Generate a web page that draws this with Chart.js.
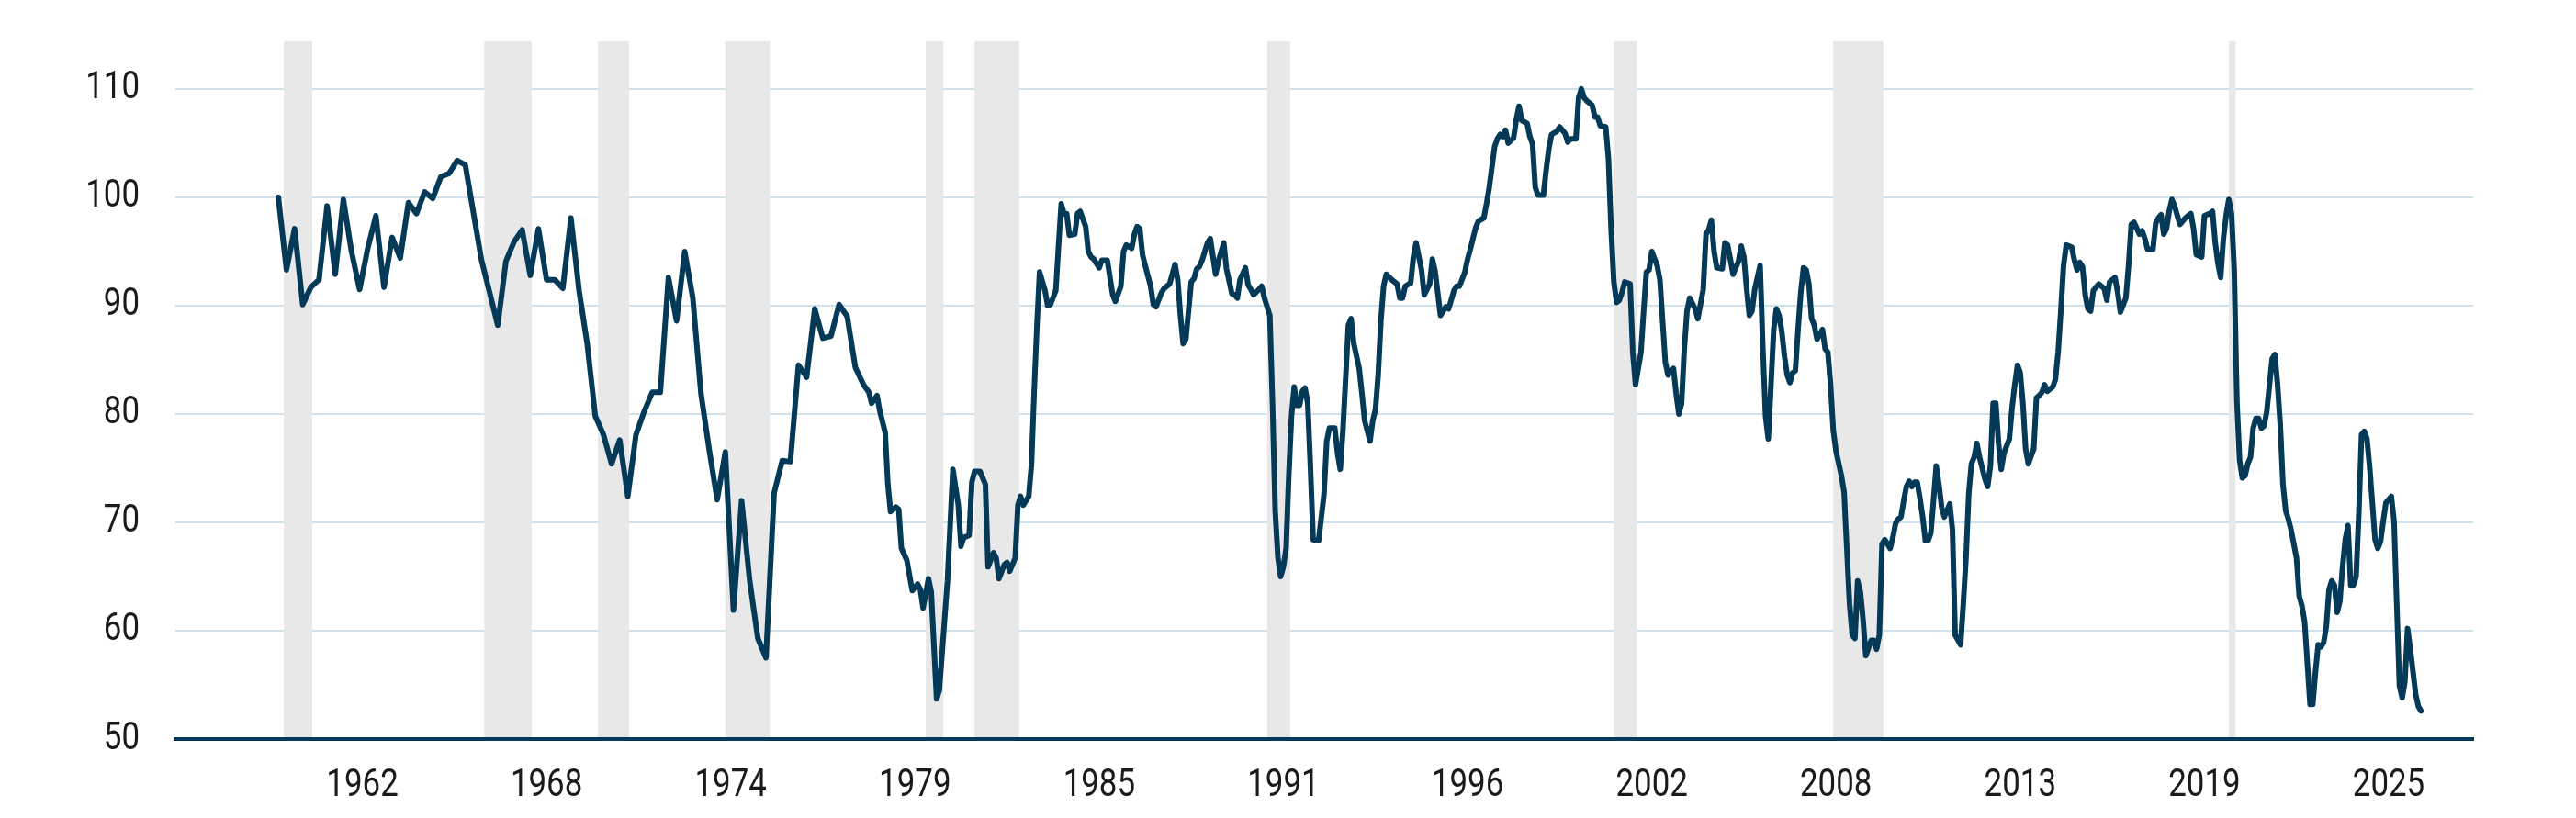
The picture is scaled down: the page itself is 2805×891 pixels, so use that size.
<!DOCTYPE html>
<html>
<head>
<meta charset="utf-8">
<script src="https://cdn.jsdelivr.net/npm/chart.js@4.4.1/dist/chart.umd.min.js"></script>
<style>
  html, body { margin: 0; padding: 0; background: #fff; }
  #wrap { width: 2805px; height: 891px; position: relative; }
</style>
</head>
<body>
<div id="wrap"><canvas id="myChart"></canvas></div>
<script>
// quarterly readings 1960-1977 (one every 3 months from quarterlyStart)
const quarterlyStart = '1960-02'
const quarterlyValues = [
  100.0, 93.3, 97.1, 90.1, 91.7, 92.4, 99.2, 92.9, 99.8, 95.0,
  91.5, 95.3, 98.3, 91.7, 96.3, 94.4, 99.5, 98.5, 100.5, 99.9,
  101.9, 102.2, 103.4, 103.0, 98.6, 94.2, 91.2, 88.2, 94.1, 95.9,
  97.0, 92.8, 97.1, 92.4, 92.4, 91.6, 98.1, 91.4, 86.5, 79.8,
  78.1, 75.4, 77.6, 72.4, 78.1, 80.2, 82.0, 82.0, 92.6, 88.6,
  95.0, 90.7, 81.9, 76.8, 72.1, 76.5, 61.9, 72.0, 64.6, 59.3,
  57.5, 72.7, 75.7, 75.6, 84.5, 83.4, 89.7, 87.0, 87.2, 90.1,
  89.0, 84.3
]

// monthly readings from 1978 on
const monthlyDates = [
  '1978-02','1978-04','1978-05','1978-07','1978-08','1978-10','1978-11','1978-12',
  '1979-02','1979-03','1979-04','1979-06','1979-08','1979-10','1979-11','1979-12',
  '1980-02','1980-03','1980-05','1980-06','1980-09','1980-11',
  '1981-01','1981-02','1981-03','1981-05','1981-06','1981-07','1981-09','1981-11','1981-12',
  '1982-02','1982-03','1982-04','1982-06','1982-07','1982-08','1982-10','1982-11','1982-12',
  '1983-01','1983-03','1983-04','1983-05','1983-06','1983-07','1983-09','1983-10','1983-11',
  '1984-01','1984-02','1984-03','1984-04','1984-05','1984-06','1984-08','1984-09','1984-10','1984-12',
  '1985-01','1985-02','1985-03','1985-05','1985-06','1985-08','1985-10','1985-11',
  '1986-01','1986-02','1986-03','1986-05','1986-06','1986-07','1986-08','1986-09','1986-10','1986-12',
  '1987-01','1987-02','1987-04','1987-05','1987-07','1987-09','1987-10','1987-11','1987-12',
  '1988-01','1988-03','1988-04','1988-05','1988-06','1988-07','1988-09','1988-10','1988-12',
  '1989-01','1989-03','1989-04','1989-06','1989-07','1989-08','1989-09','1989-11','1989-12',
  '1990-01','1990-02','1990-04','1990-05','1990-06','1990-08','1990-09','1990-10','1990-11','1990-12',
  '1991-01','1991-02','1991-03','1991-04','1991-05','1991-06','1991-07','1991-08','1991-09','1991-10','1991-11','1991-12',
  '1992-02','1992-04','1992-05','1992-06','1992-08','1992-09','1992-10','1992-11',
  '1993-01','1993-02','1993-03','1993-05','1993-06','1993-07','1993-09','1993-10','1993-11','1993-12',
  '1994-01','1994-02','1994-03','1994-05','1994-07','1994-08','1994-09','1994-10','1994-12',
  '1995-01','1995-02','1995-04','1995-05','1995-07','1995-08','1995-09','1995-10','1995-11',
  '1996-01','1996-02','1996-04','1996-05','1996-06','1996-08','1996-09','1996-10','1996-11','1996-12',
  '1997-01','1997-03','1997-04','1997-05','1997-07','1997-08','1997-09','1997-10','1997-11','1997-12',
  '1998-02','1998-03','1998-04','1998-05','1998-07','1998-08','1998-09','1998-10','1998-11',
  '1999-01','1999-02','1999-03','1999-04','1999-06','1999-07','1999-09','1999-10','1999-11',
  '2000-01','2000-02','2000-03','2000-04','2000-05','2000-07','2000-08','2000-09','2000-10','2000-12',
  '2001-01','2001-02','2001-03','2001-04','2001-05','2001-06','2001-07','2001-09','2001-10','2001-11',
  '2002-01','2002-02','2002-03','2002-04','2002-05','2002-07','2002-08','2002-09','2002-10','2002-11',
  '2003-01','2003-02','2003-03','2003-04','2003-05','2003-06','2003-07','2003-09','2003-10','2003-12',
  '2004-01','2004-02','2004-03','2004-04','2004-05','2004-07','2004-08','2004-09','2004-10','2004-11',
  '2005-01','2005-02','2005-03','2005-04','2005-05','2005-06','2005-07','2005-08','2005-09','2005-10','2005-11','2005-12',
  '2006-01','2006-02','2006-03','2006-04','2006-05','2006-06','2006-07','2006-08','2006-09','2006-10','2006-11','2006-12',
  '2007-01','2007-02','2007-03','2007-04','2007-05','2007-06','2007-08','2007-09','2007-10','2007-11','2007-12',
  '2008-01','2008-03','2008-04','2008-05','2008-06','2008-07','2008-08','2008-09','2008-10','2008-11','2008-12',
  '2009-02','2009-03','2009-04','2009-05','2009-06','2009-07','2009-09','2009-10','2009-11','2009-12',
  '2010-01','2010-02','2010-03','2010-04','2010-05','2010-06','2010-07','2010-08','2010-09','2010-10','2010-11','2010-12',
  '2011-01','2011-02','2011-03','2011-04','2011-05','2011-07','2011-08','2011-09','2011-11','2011-12',
  '2012-01','2012-02','2012-03','2012-04','2012-05','2012-06','2012-07','2012-08','2012-09','2012-10','2012-11','2012-12',
  '2013-01','2013-02','2013-03','2013-05','2013-06','2013-07','2013-08','2013-09','2013-10','2013-11','2013-12',
  '2014-02','2014-03','2014-04','2014-05','2014-06','2014-07','2014-09','2014-10','2014-11','2014-12',
  '2015-01','2015-02','2015-04','2015-05','2015-06','2015-07','2015-08','2015-09','2015-10','2015-11','2015-12',
  '2016-02','2016-04','2016-05','2016-06','2016-08','2016-09','2016-10','2016-12',
  '2017-01','2017-02','2017-03','2017-05','2017-06','2017-07','2017-08','2017-10','2017-11','2017-12',
  '2018-01','2018-02','2018-03','2018-04','2018-05','2018-06','2018-07','2018-08','2018-10','2018-12',
  '2019-01','2019-02','2019-04','2019-05','2019-07','2019-08','2019-09','2019-10','2019-11','2019-12',
  '2020-01','2020-02','2020-03','2020-04','2020-05','2020-06','2020-07','2020-08','2020-09','2020-10','2020-11','2020-12',
  '2021-01','2021-02','2021-03','2021-04','2021-06','2021-07','2021-08','2021-09','2021-10','2021-11','2021-12',
  '2022-01','2022-03','2022-04','2022-05','2022-06','2022-07','2022-08','2022-09','2022-10','2022-11','2022-12',
  '2023-01','2023-02','2023-03','2023-04','2023-05','2023-06','2023-07','2023-08','2023-09','2023-10','2023-11','2023-12',
  '2024-01','2024-02','2024-03','2024-04','2024-05','2024-06','2024-08','2024-09','2024-10','2024-11','2024-12',
  '2025-02','2025-03','2025-04','2025-05','2025-06','2025-07','2025-08','2025-09','2025-11','2025-12',
  '2026-01'
]
const monthlyValues = [
  82.7, 82.0, 81.0, 81.7, 80.3, 78.3, 73.5, 71.0,
  71.4, 71.2, 67.6, 66.5, 63.7, 64.3, 63.8, 62.1,
  64.8, 63.6, 53.7, 54.5, 64.6, 74.9,
  71.6, 67.8, 68.6, 68.8, 73.7, 74.7, 74.7, 73.5, 65.9,
  67.2, 66.7, 64.8, 66.1, 66.3, 65.5, 66.7, 71.6, 72.4,
  71.6, 72.4, 75.3, 82.0, 88.0, 93.1, 91.4, 90.0, 90.1,
  91.4, 95.5, 99.4, 98.5, 98.5, 96.5, 96.6, 98.5, 98.7, 97.3,
  95.0, 94.5, 94.3, 93.5, 94.2, 94.2, 91.0, 90.4,
  91.8, 95.0, 95.6, 95.3, 96.6, 97.3, 97.1, 94.7, 93.7, 91.8,
  90.1, 89.9, 91.2, 91.6, 92.0, 93.8, 92.4, 89.1, 86.5,
  86.9, 92.2, 92.5, 93.4, 93.6, 94.2, 95.8, 96.2, 92.9,
  94.1, 95.8, 93.4, 91.1, 91.0, 90.7, 92.4, 93.5, 91.9,
  91.5, 91.0, 91.5, 91.8, 90.7, 89.1, 81.0, 71.0, 66.7, 65.0,
  65.9, 67.6, 74.3, 79.8, 82.5, 80.8, 80.8, 82.1, 82.4, 81.0, 75.1, 68.4,
  68.3, 72.6, 77.5, 78.7, 78.7, 76.4, 74.9, 78.5,
  88.2, 88.8, 86.5, 84.2, 81.9, 79.4, 77.5, 79.4, 80.4, 83.6,
  88.6, 91.8, 92.9, 92.4, 92.0, 90.7, 90.7, 91.8, 92.1,
  94.5, 95.8, 93.3, 91.0, 92.0, 94.3, 93.2, 91.2, 89.1,
  89.9, 89.7, 91.4, 91.8, 91.8, 93.1, 94.3, 95.2, 96.2, 97.2,
  97.8, 98.1, 99.4, 100.9, 104.7, 105.4, 105.8, 105.6, 106.2, 105.0,
  105.5, 107.2, 108.4, 107.1, 106.8, 105.6, 104.9, 100.9, 100.2,
  100.2, 102.5, 104.5, 105.8, 106.1, 106.5, 105.9, 105.1, 105.4,
  105.4, 109.2, 110.0, 109.2, 108.9, 108.5, 107.4, 107.4, 106.6, 106.5,
  103.6, 97.0, 92.2, 90.3, 90.5, 91.2, 92.2, 92.0, 85.7, 82.7,
  85.7, 89.5, 93.1, 93.3, 95.0, 93.7, 92.4, 88.6, 84.8, 83.6,
  84.2, 81.9, 80.0, 81.0, 86.0, 89.5, 90.7, 89.7, 88.8, 91.5,
  96.6, 97.0, 97.9, 95.0, 93.5, 93.4, 95.8, 95.6, 94.3, 92.9,
  94.1, 95.5, 94.5, 91.6, 89.1, 89.5, 91.5, 92.6, 93.7, 86.1, 79.8, 77.7,
  82.7, 87.8, 89.7, 89.1, 87.6, 85.3, 83.6, 82.9, 83.8, 84.0, 87.8, 91.2,
  93.5, 93.3, 92.0, 88.8, 88.2, 86.9, 87.8, 86.0, 85.7, 82.7, 78.5,
  76.6, 74.3, 72.8, 67.6, 62.5, 59.6, 59.3, 64.6, 63.6, 61.0, 57.7,
  59.1, 59.1, 58.3, 59.6, 68.0, 68.4, 67.6, 68.6, 69.9, 70.3,
  70.5, 72.0, 73.3, 73.8, 73.3, 73.7, 73.7, 72.2, 70.5, 68.3, 68.3, 69.0,
  72.0, 75.2, 73.5, 71.4, 70.5, 71.7, 69.3, 59.6, 58.7, 62.5,
  66.7, 72.6, 75.4, 76.0, 77.3, 76.0, 75.0, 74.0, 73.3, 75.2, 81.0, 81.0,
  77.3, 74.9, 76.4, 77.7, 80.6, 82.7, 84.5, 83.8, 81.0, 76.8, 75.4,
  76.8, 81.5, 81.7, 82.0, 82.7, 82.1, 82.5, 83.2, 85.7, 89.5,
  93.7, 95.6, 95.4, 94.2, 93.3, 94.0, 93.6, 91.0, 89.7, 89.5, 91.4,
  92.0, 91.6, 90.5, 92.2, 92.6, 91.2, 89.4, 90.7,
  93.7, 97.5, 97.7, 96.6, 96.9, 96.2, 95.2, 95.2, 97.6, 98.1,
  98.4, 96.6, 97.1, 98.7, 99.8, 99.2, 98.3, 97.5, 98.1, 98.5,
  97.1, 94.7, 94.5, 98.3, 98.5, 98.7, 95.8, 93.9, 92.6, 96.2,
  98.3, 99.8, 98.5, 93.4, 81.2, 75.7, 74.1, 74.3, 75.4, 76.0, 78.7, 79.6,
  79.6, 78.7, 78.9, 80.2, 85.1, 85.5, 82.7, 79.0, 73.5, 71.1, 70.3,
  69.3, 66.7, 63.2, 62.3, 60.8, 57.0, 53.2, 53.2, 56.2, 58.7, 58.5,
  58.9, 60.4, 63.8, 64.6, 64.2, 61.7, 62.7, 65.9, 68.4, 69.7, 64.2, 64.2,
  65.0, 70.9, 78.1, 78.4, 77.7, 75.1, 68.4, 67.6, 68.2, 70.1, 71.8,
  72.4, 70.1, 62.5, 54.9, 53.8, 55.3, 60.2, 58.3, 54.1, 53.0,
  52.6
]

// shaded recession periods
const recessionStarts = ['1960-04','1966-06','1969-12','1973-11','1980-01','1981-07','1990-07','2001-03','2007-12','2020-02']
const recessionEnds   = ['1961-02','1967-11','1970-11','1975-03','1980-07','1982-11','1991-03','2001-11','2009-06','2020-04']

const tickDates  = ['1962-09','1968-05','1974-01','1979-09','1985-05','1991-01','1996-09','2002-05','2008-01','2013-09','2019-05','2025-01']
const tickLabels = ['1962','1968','1974','1979','1985','1991','1996','2002','2008','2013','2019','2025']
const yTicks = [50, 60, 70, 80, 90, 100, 110]

const navy = '#043a58'
const gridBlue = '#cfe1ec'
const labelFont = '42px Roboto, sans-serif'

// months since Jan 1960
function toIndex(d) {
  const [y, m] = d.split('-').map(Number)
  return (y - 1960) * 12 + (m - 1)
}

const points = []
const q0 = toIndex(quarterlyStart)
quarterlyValues.forEach((v, i) => points.push({ x: q0 + 3 * i, y: v }))
monthlyDates.forEach((d, i) => points.push({ x: toIndex(d), y: monthlyValues[i] }))

const recessionBands = {
  id: 'recessionBands',
  beforeDatasetsDraw(chart) {
    const { ctx, chartArea, scales: { x, y } } = chart
    const bottom = y.getPixelForValue(50) - 2
    ctx.save()
    ctx.fillStyle = '#e8e8e8'
    recessionStarts.forEach((s, i) => {
      const x0 = x.getPixelForValue(toIndex(s))
      const x1 = x.getPixelForValue(toIndex(recessionEnds[i]) + 0.5)
      ctx.fillRect(x0, chartArea.top, x1 - x0, bottom - chartArea.top)
    })
    ctx.restore()
  }
}

// the source uses a condensed face, so squeeze the tick labels a bit
const narrowLabels = {
  id: 'narrowLabels',
  afterDraw(chart) {
    const { ctx, scales: { x, y } } = chart
    const squeeze = 0.83
    ctx.save()
    ctx.fillStyle = '#1a1a1a'
    ctx.font = labelFont
    ctx.textBaseline = 'middle'
    ctx.textAlign = 'right'
    yTicks.forEach(v => {
      ctx.save()
      ctx.translate(y.right - 39, y.getPixelForValue(v))
      ctx.scale(squeeze, 1)
      ctx.fillText(String(v), 0, 0)
      ctx.restore()
    })
    ctx.textAlign = 'center'
    tickDates.forEach((d, i) => {
      ctx.save()
      ctx.translate(x.getPixelForValue(toIndex(d)), x.top + 51)
      ctx.scale(squeeze, 1)
      ctx.fillText(tickLabels[i], 0, 0)
      ctx.restore()
    })
    ctx.restore()
  }
}

const ctx = document.getElementById('myChart')

new Chart(ctx, {
  type: 'line',
  data: {
    datasets: [{
      data: points,
      borderColor: navy,
      borderWidth: 6,
      pointRadius: 0,
      tension: 0,
      borderJoinStyle: 'round',
      borderCapStyle: 'round'
    }]
  },
  options: {
    responsive: true,
    maintainAspectRatio: false,
    animation: false,
    devicePixelRatio: 1,
    layout: { padding: { left: 0, right: 112, top: 45, bottom: 0 } },
    plugins: {
      legend: { display: false },
      tooltip: { enabled: false }
    },
    scales: {
      x: {
        type: 'linear',
        min: -37,
        max: 811.2,
        afterBuildTicks: axis => {
          axis.ticks = tickDates.map(d => ({ value: toIndex(d) }))
        },
        afterFit: axis => {
          axis.height = 86
          axis.paddingLeft = 0
          axis.paddingRight = 0
        },
        grid: { display: false, drawTicks: false },
        border: { display: true, color: navy, width: 4 },
        ticks: { display: false, autoSkip: false, maxRotation: 0 }
      },
      y: {
        min: 50,
        max: 114.4,
        afterBuildTicks: axis => {
          axis.ticks = yTicks.map(v => ({ value: v }))
        },
        afterFit: axis => {
          axis.width = 191
          axis.paddingTop = 0
          axis.paddingBottom = 0
        },
        grid: {
          drawTicks: false,
          lineWidth: 2,
          color: c => (c.tick && c.tick.value === 50) ? 'rgba(0,0,0,0)' : gridBlue
        },
        border: { display: false },
        ticks: { display: false }
      }
    }
  },
  plugins: [recessionBands, narrowLabels]
})
</script>
</body>
</html>
